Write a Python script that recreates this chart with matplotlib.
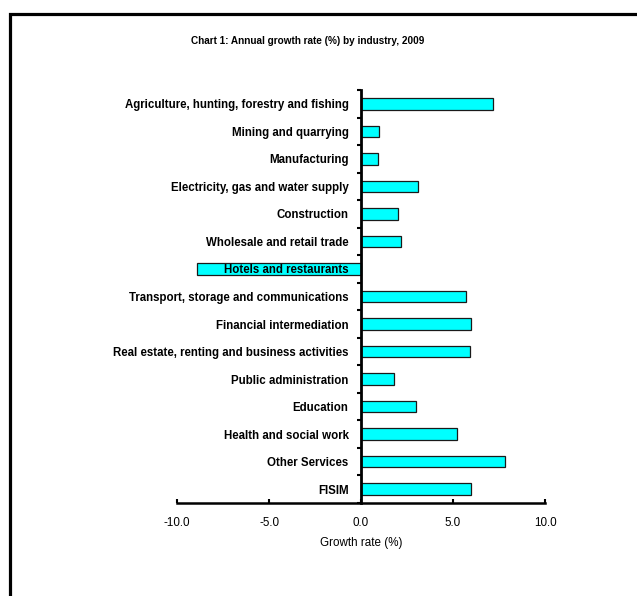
import matplotlib
matplotlib.use("Agg")
import matplotlib.pyplot as plt
from matplotlib.patches import Rectangle
import numpy as np

categories = [
    "Agriculture, hunting, forestry and fishing",
    "Mining and quarrying",
    "Manufacturing",
    "Electricity, gas and water supply",
    "Construction",
    "Wholesale and retail trade",
    "Hotels and restaurants",
    "Transport, storage and communications",
    "Financial intermediation",
    "Real estate, renting and business activities",
    "Public administration",
    "Education",
    "Health and social work",
    "Other Services",
    "FISIM",
]
growth = [7.2, 1.0, 0.9, 3.1, 2.0, 2.2, -8.9, 5.7, 6.0, 5.9, 1.8, 3.0, 5.2, 7.8, 6.0]
xticks = [-10.0, -5.0, 0.0, 5.0, 10.0]

plt.rcParams['font.family'] = ['Liberation Sans', 'DejaVu Sans']

W, H = 637, 596
fig = plt.figure(figsize=(W / 100, H / 100), dpi=100)

# outer frame
fig.add_artist(Rectangle((10 / W, -0.2), 1.5, 1 - 14 / H + 0.2,
                         transform=fig.transFigure, fill=False,
                         edgecolor='black', linewidth=2.3))

ax = fig.add_axes([177 / W, 1 - 503 / H, (545 - 177) / W, (503 - 90) / H])
n = len(categories)
y = np.arange(n)
ax.barh(y, growth, height=0.42, color='#00FFFF', edgecolor='#1a1a1a',
        linewidth=0.9, zorder=1)
ax.set_ylim(n - 0.5, -0.5)
ax.set_xlim(-10, 10)

ax.spines['top'].set_visible(False)
ax.spines['right'].set_visible(False)
ax.spines['left'].set_position(('data', 0))
ax.spines['left'].set_linewidth(2.0)
ax.spines['bottom'].set_linewidth(1.8)

ax.set_yticks(y)
ax.set_yticklabels(categories, fontsize=8.3, fontweight='bold')
ax.tick_params(axis='y', which='major', length=0, pad=9)
ax.set_yticks(np.arange(-0.5, n, 1.0), minor=True)
ax.tick_params(axis='y', which='minor', length=3, width=1.5, direction='out')

ax.set_xticks(xticks)
ax.set_xticklabels([f"{v:.1f}" for v in xticks], fontsize=8.4)
ax.tick_params(axis='x', length=3, width=1.5, direction='in', pad=10)
ax.set_xlabel("Growth rate (%)", fontsize=8.4, labelpad=6)

fig.text(308 / W, 1 - 41 / H, "Chart 1: Annual growth rate (%) by industry, 2009",
         ha='center', va='center', fontsize=7.2, fontweight='bold')

fig.savefig("out.png", dpi=100)
